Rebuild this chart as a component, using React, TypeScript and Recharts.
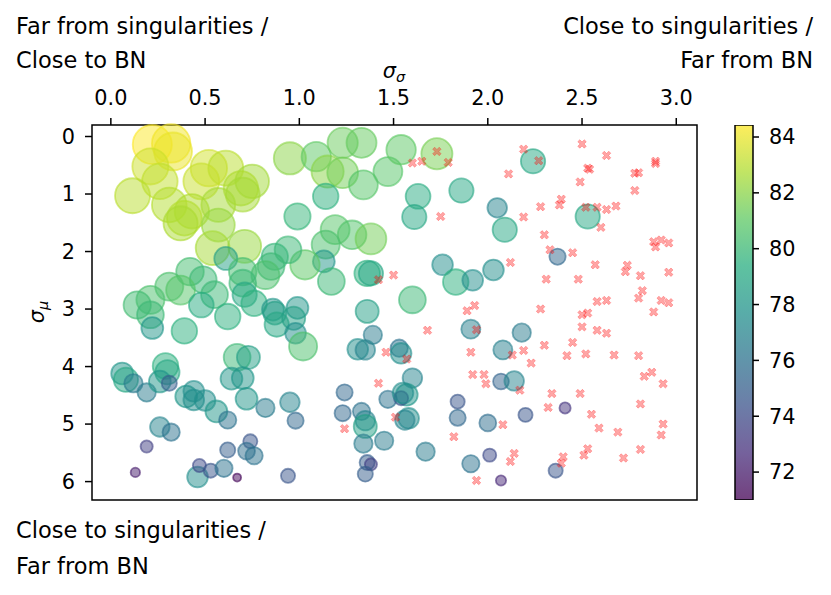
import { Bar, BarChart, ReferenceArea, Scatter, ScatterChart, XAxis, YAxis } from 'recharts';

const FONT = '"DejaVu Sans", sans-serif';

const xTicks = [0, 0.5, 1, 1.5, 2, 2.5, 3];
const yTicks = [0, 1, 2, 3, 4, 5, 6];
const colorTicks = [72, 74, 76, 78, 80, 82, 84];
const xDomain: [number, number] = [-0.1, 3.11];
const yDomain: [number, number] = [-0.2, 6.32];
const colorRange: [number, number] = [71.0, 84.43];

const viridisStops = ['#440154', '#472d7b', '#3b528b', '#2c728e', '#21918c', '#28ae80', '#5ec962', '#addc30', '#fde725'];

// [sigma_sigma, sigma_mu, accuracy]
const runs: [number, number, number][] = [
  [0.22, 0.14, 84.4], [0.32, 0.12, 84.2], [0.33, 0.26, 84.0], [0.21, 0.52, 83.4], [0.26, 0.78, 83.2],
  [0.115, 1.03, 83.0], [0.52, 0.55, 83.5], [0.61, 0.55, 83.0], [0.48, 0.78, 83.3], [0.75, 0.78, 82.5],
  [0.69, 0.9, 82.8], [0.7, 1.01, 82.6], [0.31, 1.19, 82.9], [0.43, 1.3, 82.8], [0.39, 1.42, 82.9],
  [0.37, 1.51, 82.7], [0.57, 1.19, 82.6], [0.57, 1.54, 82.3], [0.54, 1.94, 82.6], [0.71, 1.91, 82.3],
  [0.61, 2.12, 78.5],
  [0.95, 0.38, 82.0], [1.09, 0.35, 81.0], [1.23, 0.11, 81.3], [1.33, 0.11, 81.2], [1.15, 0.61, 82.0],
  [1.23, 0.63, 81.5], [1.34, 0.84, 80.8], [1.47, 0.61, 80.8], [1.54, 0.23, 81.0], [1.14, 1.04, 79.5],
  [0.99, 1.39, 79.8], [1.19, 1.62, 80.8], [1.28, 1.71, 80.7], [1.38, 1.78, 81.5], [1.14, 1.88, 80.5],
  [1.13, 2.17, 78.0], [1.03, 2.23, 81.0], [1.17, 2.52, 80.0], [1.36, 2.38, 79.5], [1.38, 2.38, 79.0],
  [0.94, 1.97, 80.0], [0.87, 2.09, 79.8], [0.85, 2.26, 80.0], [0.82, 2.41, 80.5], [0.7, 2.35, 80.3],
  [0.7, 2.55, 80.0], [0.71, 2.75, 79.0], [0.76, 2.9, 79.5], [0.42, 2.35, 80.3], [0.49, 2.49, 80.0],
  [0.31, 2.61, 80.5], [0.37, 2.67, 80.8], [0.55, 2.75, 80.0], [0.21, 2.84, 80.5], [0.14, 2.93, 80.2],
  [0.48, 2.93, 79.2], [0.62, 3.13, 79.5], [0.21, 3.1, 80.0], [0.86, 3.01, 78.0], [0.99, 2.98, 78.0],
  [1.36, 3.04, 78.5],
  [1.73, 0.3, 81.6], [2.24, 0.43, 79.0], [1.63, 1.04, 79.2], [1.61, 1.4, 79.0], [1.86, 0.94, 79.0],
  [2.05, 1.24, 77.0], [2.09, 1.62, 79.0], [2.53, 1.39, 79.0], [1.76, 2.23, 77.5], [1.83, 2.53, 79.5],
  [1.92, 2.5, 77.5], [2.03, 2.32, 77.5], [2.37, 2.09, 75.5], [1.6, 2.84, 80.0],
  [1.91, 3.35, 76.8], [2.18, 3.41, 76.5], [2.08, 3.71, 76.8], [1.6, 4.2, 77.0], [1.57, 4.49, 78.0],
  [1.58, 4.9, 77.5], [2.07, 4.26, 75.3], [2.14, 4.25, 77.0], [1.84, 4.61, 74.5], [1.84, 4.89, 75.5],
  [2.0, 4.98, 75.8], [2.2, 4.84, 74.5], [2.41, 4.72, 73.0], [1.67, 5.48, 76.5], [2.01, 5.54, 74.0],
  [1.91, 5.69, 76.0], [2.36, 5.81, 74.5], [2.07, 5.98, 72.5],
  [0.22, 3.33, 78.0], [0.39, 3.38, 79.5], [0.87, 3.07, 78.5], [0.88, 3.27, 79.0], [0.97, 3.16, 78.5],
  [0.98, 3.42, 77.5], [1.02, 3.65, 80.5], [0.67, 3.84, 80.0], [0.73, 3.84, 78.5], [0.64, 4.21, 78.0],
  [0.7, 4.2, 78.0], [0.72, 4.56, 78.0], [0.82, 4.72, 76.5], [0.95, 4.62, 77.0], [0.98, 4.94, 75.5],
  [0.06, 4.12, 78.0], [0.08, 4.23, 79.0], [0.12, 4.29, 76.5], [0.19, 4.45, 76.5], [0.29, 3.99, 79.5],
  [0.3, 4.1, 79.0], [0.26, 4.26, 78.0], [0.31, 4.29, 75.0], [0.4, 4.52, 78.0], [0.44, 4.43, 77.5],
  [0.44, 4.58, 77.5], [0.5, 4.59, 77.5], [0.56, 4.78, 78.0], [0.62, 4.93, 76.0], [0.26, 5.05, 77.0],
  [0.32, 5.14, 76.0], [0.19, 5.39, 73.5], [0.13, 5.84, 72.0], [0.46, 5.92, 77.5], [0.47, 5.72, 74.0],
  [0.53, 5.81, 74.5], [0.6, 5.77, 76.0], [0.67, 5.93, 71.2], [0.62, 5.45, 75.0], [0.74, 5.3, 74.5],
  [0.72, 5.47, 75.8], [0.76, 5.55, 76.0], [0.94, 5.9, 74.5], [1.24, 4.45, 75.5], [1.23, 4.81, 75.5],
  [1.33, 4.78, 76.0], [1.35, 4.94, 77.0], [1.35, 5.04, 78.5], [1.34, 5.34, 76.5], [1.45, 5.29, 76.5],
  [1.36, 5.67, 75.0], [1.38, 5.7, 73.5], [1.35, 5.87, 75.0], [1.39, 3.45, 76.5], [1.31, 3.7, 77.5],
  [1.35, 3.71, 77.0], [1.53, 3.68, 76.0], [1.54, 3.77, 77.5], [1.47, 4.57, 76.0], [1.54, 4.55, 74.5],
  [1.55, 4.46, 77.5], [1.56, 4.93, 77.0],
];

// [sigma_sigma, sigma_mu] of runs that did not finish
const failedRuns: [number, number][] = [
  [2.19, 0.22], [2.5, 0.13], [2.63, 0.33], [2.53, 0.55], [2.54, 0.57], [2.11, 0.65], [2.49, 0.79],
  [2.78, 0.64], [2.8, 0.63], [2.89, 0.43], [2.89, 0.47], [2.78, 0.94], [2.39, 1.09], [2.38, 1.19],
  [2.28, 1.22], [2.19, 1.4], [2.52, 1.23], [2.58, 1.23], [2.63, 1.27], [2.68, 1.21], [2.6, 1.58],
  [1.75, 1.39], [2.3, 1.71], [2.33, 1.97], [2.45, 2.02], [2.57, 2.23], [2.74, 2.24], [2.73, 2.35],
  [2.81, 2.42], [2.88, 1.83], [2.89, 1.92], [2.92, 1.8], [2.96, 1.85], [2.96, 2.36], [2.12, 2.19],
  [2.31, 2.48], [2.48, 2.48], [2.82, 2.68], [2.8, 2.81], [2.58, 2.87], [2.63, 2.85], [2.92, 2.85],
  [2.96, 2.89], [2.88, 3.05], [2.28, 3.0], [2.5, 3.1], [2.53, 3.07], [1.89, 3.03], [1.93, 2.94],
  [1.6, 0.46], [1.65, 0.43], [1.79, 0.45], [1.73, 0.26], [2.27, 0.42], [2.5, 3.31], [2.58, 3.37],
  [2.63, 3.42], [1.68, 3.37], [1.94, 3.36], [2.3, 3.63], [2.45, 3.58], [1.91, 3.75], [2.19, 3.72],
  [2.13, 3.8], [1.57, 3.87], [2.23, 3.94], [2.42, 3.81], [2.52, 3.78], [2.67, 3.8], [2.8, 3.81],
  [1.92, 4.14], [1.98, 4.14], [1.99, 4.3], [2.17, 4.41], [2.34, 4.47], [2.49, 4.47], [2.83, 4.17],
  [2.87, 4.1], [2.93, 4.3], [2.32, 4.71], [2.55, 4.83], [2.81, 4.65], [2.08, 5.01], [1.82, 5.22],
  [2.59, 5.07], [2.69, 5.14], [2.93, 5.0], [2.92, 5.19], [2.14, 5.51], [2.12, 5.65], [2.4, 5.57],
  [2.39, 5.68], [2.53, 5.43], [2.51, 5.54], [2.72, 5.59], [2.81, 5.44], [1.94, 5.98], [1.46, 3.75],
  [1.42, 4.29], [1.51, 4.88], [1.24, 5.08], [1.42, 2.49], [1.5, 2.41],
];

const bubbleData = runs.map(([x, y, acc]) => ({ x, y, acc }));
const failedData = failedRuns.map(([x, y]) => ({ x, y }));
const colorbarData = [{ name: 'accuracy', span: colorRange }];

function hexToRgb(h: string) {
  return [1, 3, 5].map((i) => parseInt(h.slice(i, i + 2), 16));
}

function viridis(t: number) {
  const c = Math.max(0, Math.min(1, t)) * (viridisStops.length - 1);
  const i = Math.min(Math.floor(c), viridisStops.length - 2);
  const f = c - i;
  const a = hexToRgb(viridisStops[i]);
  const b = hexToRgb(viridisStops[i + 1]);
  const rgb = a.map((v, k) => Math.round(v + (b[k] - v) * f));
  return `rgb(${rgb[0]},${rgb[1]},${rgb[2]})`;
}

// bubble radius grows with accuracy
const Bubble = (props: any) => {
  const { cx, cy, payload } = props;
  const color = viridis((payload.acc - colorRange[0]) / (colorRange[1] - colorRange[0]));
  const d = payload.acc - 71.2;
  const r = 4 + 0.85 * d + 0.025 * d * d;
  return (
    <circle cx={cx} cy={cy} r={r} fill={color} fillOpacity={0.5} stroke={color} strokeOpacity={0.6} strokeWidth={1.8} />
  );
};

const L = 4.6;
const T = 1.4;
const crossPath =
  `M${T},${-L}L${T},${-T}L${L},${-T}L${L},${T}L${T},${T}L${T},${L}L${-T},${L}L${-T},${T}` +
  `L${-L},${T}L${-L},${-T}L${-T},${-T}L${-T},${-L}Z`;

const Cross = (props: any) => {
  const { cx, cy } = props;
  return (
    <path
      d={crossPath}
      transform={`translate(${cx},${cy}) rotate(45)`}
      fill="#ff0000"
      fillOpacity={0.35}
      stroke="#ff0000"
      strokeOpacity={0.3}
      strokeWidth={0.8}
    />
  );
};

const tickStyle = { fill: '#000', fontSize: 20.8, fontFamily: FONT };
const cornerStyle = { fontSize: 22.5, fontFamily: FONT, fill: '#000' };

export default function App() {
  return (
    <div style={{ position: 'absolute', left: 0, top: 0, width: 831, height: 595, background: '#fff' }}>
      <div style={{ position: 'absolute', left: 0, top: 0 }}>
        <ScatterChart width={720} height={595} margin={{ top: 95, right: 23, bottom: 95, left: 52 }}>
          <XAxis
            dataKey="x"
            type="number"
            orientation="top"
            domain={xDomain}
            ticks={xTicks}
            tickFormatter={(v: number) => v.toFixed(1)}
            tick={tickStyle}
            tickSize={7}
            tickMargin={13}
            axisLine={false}
            tickLine={{ stroke: '#000', strokeWidth: 1.5 }}
            height={30}
          />
          <YAxis
            dataKey="y"
            type="number"
            reversed
            domain={yDomain}
            ticks={yTicks}
            tick={tickStyle}
            tickSize={7}
            tickMargin={10}
            axisLine={false}
            tickLine={{ stroke: '#000', strokeWidth: 1.5 }}
            width={40}
          />
          <Scatter data={bubbleData} shape={Bubble} isAnimationActive={false} />
          <Scatter data={failedData} shape={Cross} isAnimationActive={false} />
          <ReferenceArea
            x1={xDomain[0]}
            x2={xDomain[1]}
            y1={yDomain[0]}
            y2={yDomain[1]}
            fill="none"
            stroke="#000"
            strokeWidth={1.5}
            fillOpacity={0}
          />
        </ScatterChart>
      </div>
      <div style={{ position: 'absolute', left: 720, top: 0 }}>
        <BarChart
          width={111}
          height={595}
          data={colorbarData}
          margin={{ top: 125, right: 0, bottom: 95, left: 15 }}
          barCategoryGap={0}
        >
          <defs>
            <linearGradient id="viridisBar" x1="0" y1="1" x2="0" y2="0">
              {viridisStops.map((c, i) => (
                <stop key={c} offset={i / (viridisStops.length - 1)} stopColor={c} stopOpacity={0.75} />
              ))}
            </linearGradient>
          </defs>
          <XAxis dataKey="name" hide />
          <YAxis
            type="number"
            orientation="right"
            domain={colorRange}
            allowDataOverflow
            ticks={colorTicks}
            tick={tickStyle}
            tickSize={6}
            tickMargin={10}
            axisLine={false}
            tickLine={{ stroke: '#000', strokeWidth: 1.5 }}
            width={78}
          />
          <Bar dataKey="span" fill="url(#viridisBar)" stroke="#000" strokeWidth={1.5} isAnimationActive={false} />
        </BarChart>
      </div>
      <svg width={831} height={595} style={{ position: 'absolute', left: 0, top: 0, pointerEvents: 'none' }}>
        <text x={16} y={34} style={cornerStyle}>Far from singularities /</text>
        <text x={16} y={68} style={cornerStyle}>Close to BN</text>
        <text x={813} y={34} textAnchor="end" style={cornerStyle}>Close to singularities /</text>
        <text x={813} y={68} textAnchor="end" style={cornerStyle}>Far from BN</text>
        <text x={16} y={538} style={cornerStyle}>Close to singularities /</text>
        <text x={16} y={574} style={cornerStyle}>Far from BN</text>
        <text x={394} y={78} textAnchor="middle" style={{ fontSize: 20.8, fontFamily: FONT }}>
          <tspan fontStyle="oblique">σ</tspan>
          <tspan fontStyle="oblique" fontSize={14.5} dy={4}>σ</tspan>
        </text>
        <text
          x={0}
          y={0}
          textAnchor="middle"
          transform="translate(44,312) rotate(-90)"
          style={{ fontSize: 20.8, fontFamily: FONT }}
        >
          <tspan fontStyle="oblique">σ</tspan>
          <tspan fontStyle="oblique" fontSize={14.5} dy={4}>μ</tspan>
        </text>
      </svg>
    </div>
  );
}
